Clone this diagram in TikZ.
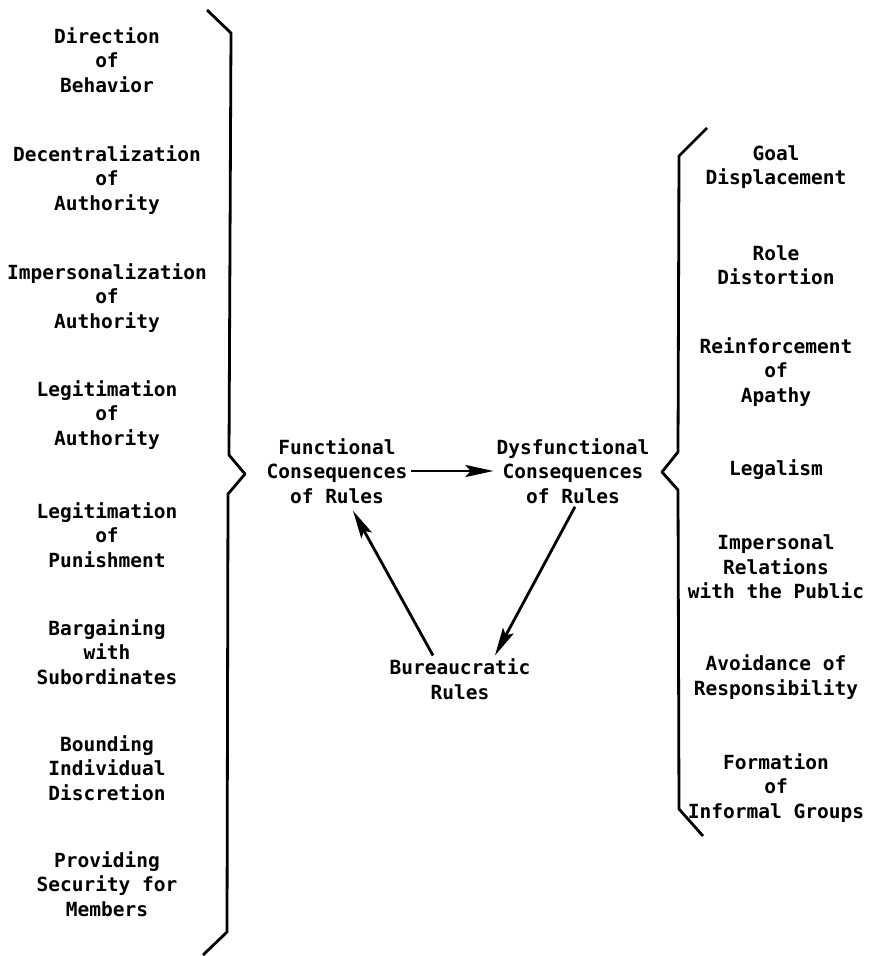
\documentclass[tikz,border=0pt]{standalone}
\usepackage{fontspec}
\newfontfamily\typefont{DejaVu Sans Mono}
\usetikzlibrary{arrows.meta, positioning, calc}

\begin{document}
\begin{tikzpicture}[x=1pt, y=-1pt,
		item/.style={align=center, inner sep=3pt, font=\typefont\bfseries\fontsize{19.5}{24.5}\selectfont},
		arr/.style={line width=2.8pt, -{Stealth[length=28pt, width=12pt, inset=5pt]}},
		brace/.style={line width=2.8pt, line join=round}]
	
	\useasboundingbox (0,0) rectangle (875,956);
	
	% left column
	\node[item] (l1) at (107,60) {Direction\\of\\Behavior};
	\node[item] (l2) at (107,180) {Decentralization\\of\\Authority};
	\node[item] (l3) at (107,298) {Impersonalization\\of\\Authority};
	\node[item] (l4) at (107,415) {Legitimation\\of\\Authority};
	\node[item] (l5) at (107,535) {Legitimation\\of\\Punishment};
	\node[item] (l6) at (107,652) {Bargaining\\with\\Subordinates};
	\node[item] (l7) at (107,768) {Bounding\\Individual\\Discretion};
	\node[item] (l8) at (107,884) {Providing\\Security for\\Members};
	
	% right column
	\node[item] (r1) at (776,167) {Goal\\Displacement};
	\node[item] (r2) at (776,265) {Role\\Distortion};
	\node[item] (r3) at (776,372) {Reinforcement\\of\\Apathy};
	\node[item] (r4) at (776,470) {Legalism};
	\node[item] (r5) at (776,567) {Impersonal\\Relations\\with the Public};
	\node[item] (r6) at (776,677) {Avoidance of\\Responsibility};
	\node[item] (r7) at (776,788) {Formation\\of\\Informal Groups};
	
	% braces
	\draw[brace] (207,10) -- (231,33) -- (229,455) -- (245,474) -- (228,494) -- (227,932) -- (203,955);
	\draw[brace] (707,128) -- (679,156) -- (678,452) -- (662,472) -- (678,490) -- (679,809) -- (703,836);
	
	% cycle
	\node[item] (func) at (337,471) {Functional\\Consequences\\of Rules};
	\node[item] (dys) at (573,471) {Dysfunctional\\Consequences\\of Rules};
	\node[item] (bur) at (460,679) {Bureaucratic\\Rules};
	
	\draw[arr] (func) -- (dys);
	\draw[arr] ([xshift=2pt]dys.south) -- ([xshift=35pt]bur.north);
	\draw[arr] ([xshift=-27pt]bur.north) -- ([xshift=16pt, yshift=-4pt]func.south);
\end{tikzpicture}
\end{document}
